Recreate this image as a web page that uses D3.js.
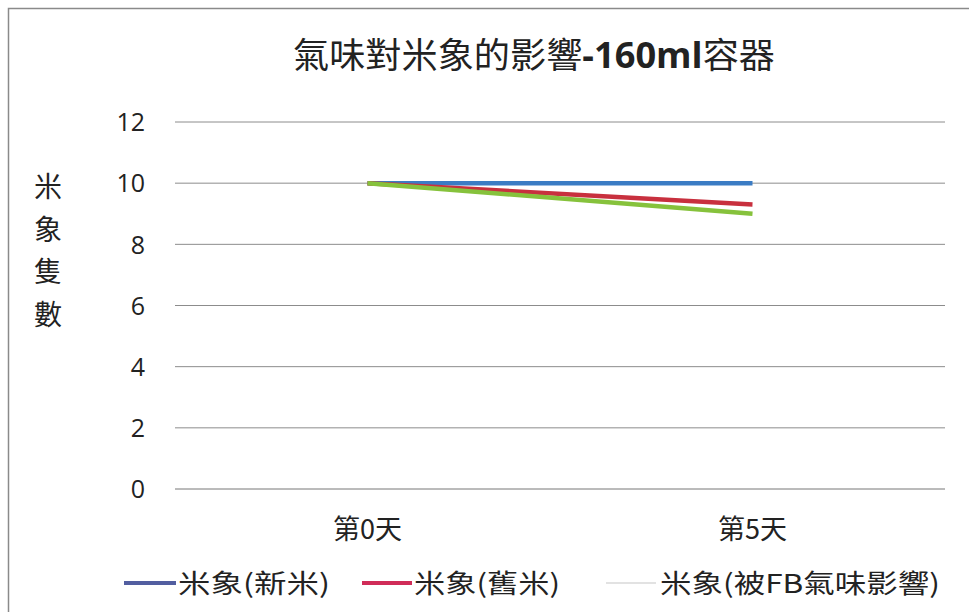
<!DOCTYPE html>
<html>
<head>
<meta charset="utf-8">
<script src="https://cdn.jsdelivr.net/npm/d3@7"></script>
<style>
  html, body { margin: 0; padding: 0; background: #fff; }
  svg { display: block; }
  text { font-family: "Noto Sans CJK TC", "Noto Sans CJK SC", sans-serif; fill: #222; }
</style>
</head>
<body>
<svg id="chart" width="969" height="612"></svg>
<script>
// Chart data
const categories = ["第0天", "第5天"];
const seriesNames = ["米象(新米)", "米象(舊米)", "米象(被FB氣味影響)"];
const newRice = [10, 10];
const oldRice = [10, 9.3];
const fbOdor = [10, 9];
const yTicks = [0, 2, 4, 6, 8, 10, 12];

const lineColors = ["#3b7cc4", "#c8303e", "#86c23c"];
const legendColors = ["#525ea0", "#d02c58", "#d8d8d8"];
const legendWidths = [4, 4, 1.5];

const svg = d3.select("#chart");
const W = 969, H = 612;
const margin = { left: 175, right: 24, top: 122, bottom: 123 };

// outer frame
svg.append("rect").attr("x", 8.5).attr("y", 8.5).attr("width", W).attr("height", H)
  .attr("fill", "#fff").attr("stroke", "#8a8a8a").attr("stroke-width", 1.5);

const x = d3.scaleBand().domain(categories).range([margin.left, W - margin.right]);
const y = d3.scaleLinear().domain([0, 12]).range([H - margin.bottom, margin.top]);

// gridlines
svg.append("g").selectAll("line").data(yTicks).join("line")
  .attr("x1", margin.left).attr("x2", W - margin.right)
  .attr("y1", d => y(d)).attr("y2", d => y(d))
  .attr("stroke", d => d === 0 ? "#777" : "#8c8c8c").attr("stroke-width", 1);

// y axis labels
const yAxis = svg.append("g").attr("transform", `translate(${margin.left - 30},0)`)
  .call(d3.axisLeft(y).tickValues(yTicks).tickSize(0).tickPadding(0));
yAxis.select(".domain").remove();
yAxis.selectAll("text").attr("font-size", 25).attr("dy", "0.35em")
  .style("font-family", "Open Sans, sans-serif").attr("fill", "#222");

// x axis labels
const xAxis = svg.append("g").attr("transform", `translate(0,${H - margin.bottom + 27})`)
  .call(d3.axisBottom(x).tickSize(0).tickPadding(0));
xAxis.select(".domain").remove();
xAxis.selectAll("text").attr("font-size", 27).attr("dy", "0.85em").attr("fill", "#222");

// y axis title, stacked vertically
const yTitle = "米象隻數".split("");
svg.append("g").selectAll("text").data(yTitle).join("text")
  .attr("x", 48).attr("y", (d, i) => 197 + i * 42.5)
  .attr("text-anchor", "middle").attr("font-size", 28).text(d => d);

// title
const title = svg.append("text").attr("x", 293).attr("y", 68)
  .attr("font-size", 35).attr("textLength", 482).attr("lengthAdjust", "spacingAndGlyphs");
title.append("tspan").text("氣味對米象的影響");
title.append("tspan").attr("font-weight", "bold").style("font-family", "Open Sans, sans-serif").text("-160ml");
title.append("tspan").text("容器");

// lines
const allSeries = [newRice, oldRice, fbOdor];
const line = d3.line()
  .x((d, i) => x(categories[i]) + x.bandwidth() / 2)
  .y(d => y(d));
svg.append("g").selectAll("path").data(allSeries).join("path")
  .attr("d", d => line(d)).attr("fill", "none")
  .attr("stroke", (d, i) => lineColors[i]).attr("stroke-width", 4.5)
  .attr("stroke-linecap", "butt");

// legend
const legendItems = [
  { x0: 124, x1: 176, tx: 178, tw: 152 },
  { x0: 362, x1: 412, tx: 414, tw: 146 },
  { x0: 606, x1: 656, tx: 660, tw: 280 }
];
const lg = svg.append("g");
legendItems.forEach((it, i) => {
  lg.append("line").attr("x1", it.x0).attr("x2", it.x1).attr("y1", 583).attr("y2", 583)
    .attr("stroke", legendColors[i]).attr("stroke-width", legendWidths[i]);
  lg.append("text").attr("x", it.tx).attr("y", 593).attr("font-size", 26)
    .attr("textLength", it.tw).attr("lengthAdjust", "spacingAndGlyphs")
    .text(seriesNames[i]);
});
</script>
</body>
</html>
